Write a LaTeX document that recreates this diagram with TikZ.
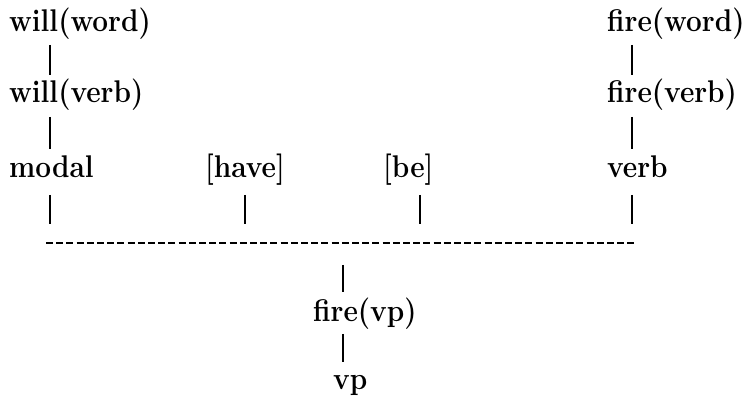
\documentclass[tikz,border=0pt]{standalone}
\newcommand{\tallbox}[1]{\scalebox{1}[1.12]{#1}}
\begin{document}
\begin{tikzpicture}[x=1pt,y=-1pt,
  lbl/.style={anchor=base west,inner sep=0pt,font=\fontsize{28}{34}\selectfont\bfseries},
  conn/.style={line width=1.6pt},
  dashconn/.style={line width=2pt,dash pattern=on 7pt off 3.2pt}]
\useasboundingbox (0,0) rectangle (748,406);
\node[lbl] (ww) at (9,32) {\tallbox{will(word)}};
\node[lbl] (wv) at (9,103) {\tallbox{will(verb)}};
\node[lbl] (modal) at (9,178) {\tallbox{modal}};
\node[lbl] (have) at (205,178) {\tallbox{[have]}};
\node[lbl] (be) at (383,178) {\tallbox{[be]}};
\node[lbl] (verb) at (607,178) {\tallbox{verb}};
\node[lbl] (fw) at (607,32) {\tallbox{fire(word)}};
\node[lbl] (fv) at (607,103) {\tallbox{fire(verb)}};
\node[lbl] (fvp) at (313,322) {\tallbox{fire(vp)}};
\node[lbl] (vp) at (333,390) {\tallbox{vp}};
% left column
\coordinate (a1) at (50,45); \coordinate (a2) at (50,75);
\coordinate (a3) at (50,117); \coordinate (a4) at (50,149);
\coordinate (a5) at (50,195); \coordinate (a6) at (50,224);
\draw[conn] (a1) -- (a2);
\draw[conn] (a3) -- (a4);
\draw[conn] (a5) -- (a6);
% have, be
\coordinate (h1) at (245,195); \coordinate (h2) at (245,224);
\coordinate (b1) at (420,195); \coordinate (b2) at (420,224);
\draw[conn] (h1) -- (h2);
\draw[conn] (b1) -- (b2);
% right column
\coordinate (r1) at (632,45); \coordinate (r2) at (632,75);
\coordinate (r3) at (632,117); \coordinate (r4) at (632,149);
\coordinate (r5) at (632,195); \coordinate (r6) at (632,224);
\draw[conn] (r1) -- (r2);
\draw[conn] (r3) -- (r4);
\draw[conn] (r5) -- (r6);
% dashed bar
\coordinate (d1) at (46,243); \coordinate (d2) at (634,243);
\draw[dashconn] (d1) -- (d2);
% lower column
\coordinate (c1) at (343,265); \coordinate (c2) at (343,292);
\coordinate (c3) at (343,334); \coordinate (c4) at (343,362);
\draw[conn] (c1) -- (c2);
\draw[conn] (c3) -- (c4);
\end{tikzpicture}
\end{document}
